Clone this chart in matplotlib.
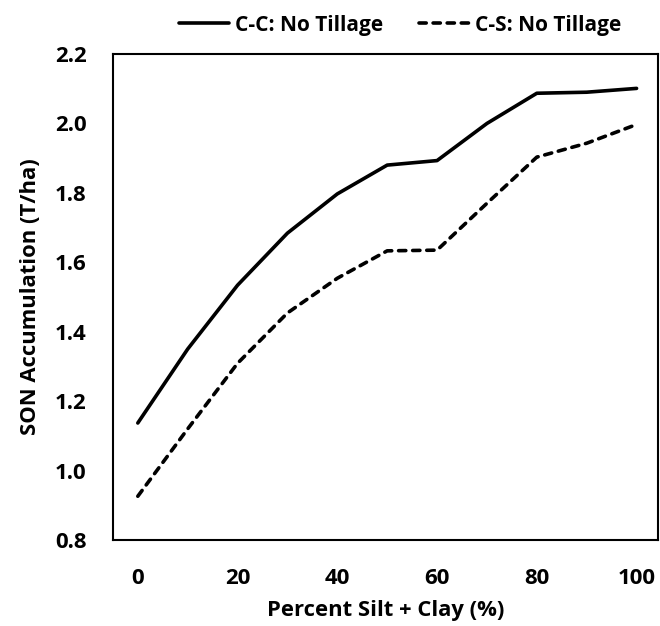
import numpy as np
import matplotlib
matplotlib.use('Agg')
import matplotlib.pyplot as plt

plt.rcParams['font.family'] = ['Open Sans', 'DejaVu Sans']
plt.rcParams['font.weight'] = 'bold'

# ── Data ─────────────────────────────────────────────────────
silt_clay = [0, 10, 20, 30, 40, 50, 60, 70, 80, 90, 100]
cc_no_till = [1.137, 1.35, 1.534, 1.684, 1.797, 1.88, 1.893, 2.0, 2.087, 2.09, 2.101]
cs_no_till = [0.926, 1.12, 1.309, 1.454, 1.554, 1.633, 1.635, 1.77, 1.903, 1.943, 1.997]
x_ticks = [0, 20, 40, 60, 80, 100]
y_ticks = [0.8, 1.0, 1.2, 1.4, 1.6, 1.8, 2.0, 2.2]

fig = plt.figure(figsize=(6.6, 6.26), dpi=100)
ax = fig.add_axes([0.171, 0.1374, 0.826, 0.7763])

l1, = ax.plot(silt_clay, cc_no_till, color='black', lw=2.6,
              label='C-C: No Tillage', solid_capstyle='round')
l2, = ax.plot(silt_clay, cs_no_till, color='black', lw=2.6, ls=(0, (2.0, 1.9)),
              label='C-S: No Tillage', dash_capstyle='round')

ax.set_xlim(-5.0, 104.3)
ax.set_ylim(0.8, 2.2)
ax.set_xticks(x_ticks)
ax.set_yticks(y_ticks)
ax.set_yticklabels([f"{v:.1f}" for v in y_ticks])
ax.tick_params(length=0, labelsize=16)
ax.tick_params(axis='x', pad=20)
ax.tick_params(axis='y', pad=19)
for t in ax.get_xticklabels() + ax.get_yticklabels():
    t.set_fontweight('bold')

for s in ax.spines.values():
    s.set_linewidth(1.5)
    s.set_color('black')

ax.set_xlabel("Percent Silt + Clay (%)", fontsize=15.8, fontweight='bold', labelpad=8)
ax.set_ylabel("SON Accumulation (T/ha)", fontsize=15.8, fontweight='bold', labelpad=10)

fig.legend(handles=[l1, l2], loc='center', ncol=2, frameon=False,
           bbox_to_anchor=(400 / 660, 1 - 25 / 626),
           handlelength=2.4, handletextpad=0.3, columnspacing=1.7,
           prop={'weight': 'bold', 'size': 15})

fig.savefig("out.png", dpi=100, facecolor='white')
